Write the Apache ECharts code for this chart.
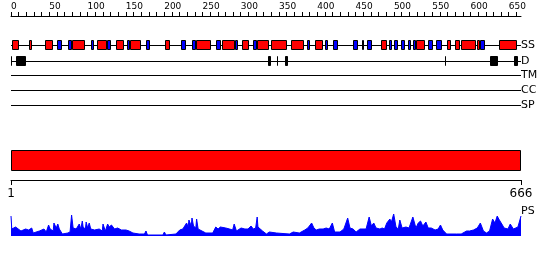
<!DOCTYPE html>
<html><head><meta charset="utf-8">
<script src="https://cdn.jsdelivr.net/npm/echarts@6/dist/echarts.min.js"></script>
<style>html,body{margin:0;padding:0;background:#fff}#c{width:550px;height:260px}</style>
</head><body><div id="c"></div>
<script>
// ---------------- data ----------------
const seqLength = 666;
const rulerLabels = [0,50,100,150,200,250,300,350,400,450,500,550,600,650];
const endLabels = [1, 666];
const trackNames = ['SS','D','TM','CC','SP'];
const helix = [[1,11],[24,28],[45,55],[80,97],[112,126],[137,148],[156,170],[201,207],[242,261],[276,292],[302,311],[321,337],[340,361],[366,382],[397,408],[483,491],[529,540],[570,575],[580,586],[588,607],[609,612],[637,661]];
const strand = [[60,66],[75,80],[104,109],[126,130],[152,156],[176,181],[222,228],[237,242],[268,274],[292,296],[316,321],[386,391],[410,414],[421,427],[447,453],[459,461],[465,472],[493,497],[500,505],[509,515],[518,523],[525,529],[545,551],[555,563],[612,619]];
const disorder = [[0,1.5],[7,20],[335,339],[347,349],[358,362],[567,568],[625,636],[657,662]];
const transmembrane = [];
const coiledCoil = [];
const signalPeptide = [];
const domainBar = [[1,666]];
const psPos = [1,2,7,14,20,24,28,30,38,44,47,50,52,54,56,57,60,62,64,68,75,78,80,82,86,90,92,94,95,97,98,99,101,103,105,107,110,112,116,120,121,124,127,129,132,136,140,145,151,155,160,168,175,177,179,199,201,203,205,216,221,225,227,230,232,233,235,236,237,239,242,243,245,247,255,264,268,271,274,276,281,286,290,292,295,297,301,306,310,314,317,320,322,323,325,329,334,338,347,364,369,377,384,388,393,396,399,403,408,412,416,420,423,430,435,440,443,447,451,456,460,464,468,471,474,477,482,485,488,491,495,497,500,503,506,508,511,516,520,525,529,532,535,538,542,545,549,554,558,561,564,569,582,588,595,599,604,609,613,617,621,625,629,632,635,637,641,644,646,649,652,656,659,662,666];
const psVal = [20,7,9,5,7,6,8,3,5,7,4,11,7,8,5,13,8,12,7,2,3,4,21,8,7,12,7,15,9,10,7,14,8,13,7,8,6,8,7,5,12,5,12,9,11,7,8,6,6,5,3,2,2,5,1,1,4,1,2,2,6,7,8,13,9,16,14,10,18,10,8,17,7,5,3,3,9,7,9,7,8,7,6,12,5,5,8,7,7,10,7,8,19,9,7,5,2,4,3,2,4,3,6,8,13,8,6,7,7,8,7,13,4,4,7,18,8,7,4,7,7,7,19,10,13,8,7,8,7,13,17,14,22,9,7,16,8,9,8,19,8,13,15,10,14,8,8,6,7,11,6,2,2,2,5,5,6,8,13,5,3,5,17,13,20,17,12,8,10,7,12,7,8,9,20];

// ---------------- helpers ----------------
const FONT = 'DejaVu Sans';
const snap = v => Math.round(v) + 0.5;
function boxRender(fill) {
  return function (params, api) {
    const s = api.coord([api.value(0), 0.5]);
    const e = api.coord([api.value(1), 0.5]);
    const h = api.size([0, 1])[1];
    const x1 = snap(s[0]);
    let x2 = snap(e[0]) - 1;
    if (x2 < x1) x2 = x1;
    const y1 = snap(s[1] - h / 2);
    return {type: 'rect', shape: {x: x1, y: y1, width: x2 - x1, height: h - 1},
      style: {fill: fill, stroke: '#000', lineWidth: 1}};
  };
}
function lineRender(params, api) {
  const s = api.coord([api.value(0), 0.5]);
  const e = api.coord([api.value(1), 0.5]);
  const y = Math.floor(s[1]) + 0.5;
  return {type: 'line', shape: {x1: Math.round(s[0]), y1: y, x2: Math.round(e[0]), y2: y},
    style: {stroke: '#000', lineWidth: 1}};
}

const L = 11, W = 510;
const rowTops = [40, 56, 70, 85, 100];
const grids = [], xAxes = [], yAxes = [], series = [];
function addGrid(top, height, xmin, xaxisExtra, yaxisExtra) {
  grids.push({left: L, width: W, top: top, height: height, containLabel: false, outerBoundsMode: 'none'});
  const i = grids.length - 1;
  xAxes.push(Object.assign({gridIndex: i, type: 'value', min: xmin, max: seqLength, show: false}, xaxisExtra || {}));
  yAxes.push(Object.assign({gridIndex: i, type: 'value', min: 0, max: 1, show: false}, yaxisExtra || {}));
  return i;
}

// top ruler
const tickVals = [];
for (let v = 0; v <= 660; v += 10) tickVals.push(v);
addGrid(15, 1, 0, {
  show: true, position: 'top',
  axisLine: {show: true, lineStyle: {color: '#000', width: 1}},
  axisTick: {show: true, length: 4, inside: false, customValues: tickVals, lineStyle: {color: '#000'}},
  axisLabel: {show: true, customValues: rulerLabels, margin: 4, fontSize: 9, fontFamily: FONT, color: '#000', align: 'left'},
  splitLine: {show: false}
});

// tracks
const trackData = [
  [['strand', strand], ['helix', helix]],
  [['dis', disorder]],
  [['tm', transmembrane]],
  [['cc', coiledCoil]],
  [['sp', signalPeptide]]
];
const fills = {strand: '#0000ff', helix: '#ff0000', dis: '#000000', tm: '#000000', cc: '#000000', sp: '#000000'};
trackNames.forEach((name, k) => {
  const gi = addGrid(rowTops[k], 10, 0);
  series.push({type: 'custom', xAxisIndex: gi, yAxisIndex: gi, renderItem: lineRender,
    data: [[0, seqLength]], silent: true, z: 1});
  trackData[k].forEach(([key, arr]) => {
    series.push({type: 'custom', xAxisIndex: gi, yAxisIndex: gi, renderItem: boxRender(fills[key]),
      data: arr.map(d => [d[0], d[1]]), silent: true, z: 2});
  });
});

// domain bar
const gBar = addGrid(150, 21, 1);
series.push({type: 'custom', xAxisIndex: gBar, yAxisIndex: gBar, renderItem: boxRender('#ff0000'),
  data: domainBar, silent: true});

// bottom ruler
addGrid(170, 10, 1, {
  show: true, position: 'bottom',
  axisLine: {show: true, lineStyle: {color: '#000', width: 1}},
  axisTick: {show: true, length: 5, inside: false, customValues: endLabels, lineStyle: {color: '#000'}},
  axisLabel: {show: true, customValues: endLabels, margin: 8, fontSize: 12, fontFamily: FONT, color: '#000'},
  splitLine: {show: false}
});

// PS profile
const gPs = addGrid(211, 25, 1, {}, {max: 25});
series.push({type: 'line', xAxisIndex: gPs, yAxisIndex: gPs, data: psPos.map((p, i) => [p, psVal[i]]),
  symbol: 'none', silent: true, lineStyle: {color: '#0000ff', width: 1},
  areaStyle: {color: '#0000ff', opacity: 1}});

const labelY = [45, 61, 75, 90, 105];
const graphic = trackNames.map((n, k) => ({type: 'text', x: 521, y: labelY[k],
  style: {text: n, fontSize: 11, fontFamily: FONT, fill: '#000', textVerticalAlign: 'middle', textAlign: 'left'}}));
graphic.push({type: 'text', x: 521, y: 211,
  style: {text: 'PS', fontSize: 11, fontFamily: FONT, fill: '#000', textVerticalAlign: 'middle', textAlign: 'left'}});

const chart = echarts.init(document.getElementById('c'), null, {renderer: 'canvas'});
chart.setOption({
  animation: false,
  backgroundColor: '#fff',
  grid: grids, xAxis: xAxes, yAxis: yAxes, series: series, graphic: graphic
});
</script></body></html>
